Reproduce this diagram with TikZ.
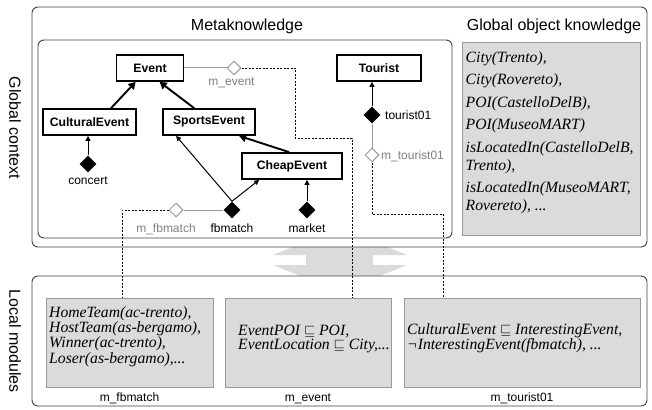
\documentclass[tikz,border=0pt]{standalone}
\usepackage{fontspec}
\setmainfont{Liberation Serif}
\setsansfont{Liberation Sans}
\usetikzlibrary{shapes.geometric,arrows.meta}
\begin{document}
\begin{tikzpicture}[x=1pt,y=-1pt,
  frame/.style={draw=black!75, line width=0.9pt, rounded corners=6pt, fill=white},
  cls/.style={draw=black, line width=1.8pt, fill=white, inner sep=0pt, minimum height=26pt,
    font=\sffamily\bfseries\fontsize{12.2}{14}\selectfont},
  inst/.style={diamond, fill=black, inner sep=0pt, minimum width=17pt, minimum height=17pt},
  modd/.style={diamond, draw=black!40, fill=white, line width=1pt, inner sep=0pt, minimum width=14pt, minimum height=14pt},
  isa/.style={line width=1.9pt, -{Triangle[length=7pt,width=8pt]}},
  inof/.style={line width=1pt, -{Triangle[length=5pt,width=5pt]}},
  glink/.style={draw=black!40, line width=1pt},
  dlink/.style={dash pattern=on 2pt off 1.5pt, line width=0.8pt},
  gbox/.style={draw=black!40, fill=black!14, line width=0.8pt, inner sep=0pt},
  lbl/.style={inner sep=0pt, font=\sffamily\fontsize{12}{14}\selectfont},
  glbl/.style={lbl, text=black!50},
  ttl/.style={inner sep=0pt, font=\sffamily\fontsize{16}{18}\selectfont},
  itxt/.style={inner sep=0pt, align=left, font=\rmfamily\itshape\fontsize{15.7}{18}\selectfont},
  ltxt/.style={inner sep=0pt, align=left, font=\rmfamily\itshape\fontsize{15.7}{13.6}\selectfont}
]
\useasboundingbox (0,0) rectangle (652,409);

% double arrow between layers
\fill[black!14] (340,228) -- (407,255) -- (373,255) -- (373,265) -- (407,265) -- (340,292)
  -- (273,265) -- (306,265) -- (306,255) -- (273,255) -- cycle;

% frames
\draw[frame] (32,7) rectangle (647,247);
\draw[frame] (38,40) rectangle (452,238);
\draw[frame] (32,276) rectangle (647,406);

% titles
\node[ttl, anchor=base] (tmeta) at (247,30.7) {Metaknowledge};
\node[ttl, anchor=base] (tgok) at (554,30.7) {Global object knowledge};
\node[ttl, rotate=-90] (tgc) at (15,128) {Global context};
\node[ttl, rotate=-90] (tlm) at (15,341) {Local modules};

% class boxes
\node[cls, minimum width=67pt] (Event) at (150,68) {Event};
\node[cls, minimum width=93pt] (Cultural) at (89.5,122) {CulturalEvent};
\node[cls, minimum width=92pt] (Sports) at (209,122) {SportsEvent};
\node[cls, minimum width=100pt] (Cheap) at (292,166) {CheapEvent};
\node[cls, minimum width=84pt] (Tourist) at (379,68) {Tourist};

% instances
\node[inst] (concert) at (88,164) {};
\node[inst] (fb) at (232,210) {};
\node[inst] (market) at (307,210) {};
\node[inst] (t01) at (372,115) {};

% module diamonds
\node[modd] (mev) at (234,68) {};
\node[modd] (mfb) at (176,210) {};
\node[modd] (mt) at (372,155) {};

% labels
\node[lbl, anchor=base] (lconcert) at (88,184) {concert};
\node[lbl, anchor=base] (lfb) at (232,232) {fbmatch};
\node[lbl, anchor=base] (lmarket) at (307,232) {market};
\node[lbl, anchor=base west] (lt01) at (385,119.5) {tourist01};
\node[glbl, anchor=base] (lmev) at (231.5,85) {m\_event};
\node[glbl, anchor=base] (lmfb) at (166,232) {m\_fbmatch};
\node[glbl, anchor=base west] (lmt) at (381,159.5) {m\_tourist01};

% subclass arrows
\draw[isa] ([xshift=69pt]Cultural.north west) -- ([xshift=20pt]Event.south west);
\draw[isa] ([xshift=32pt]Sports.north west) -- ([xshift=44pt]Event.south west);
\draw[isa] ([xshift=48pt]Cheap.north west) -- ([xshift=77pt]Sports.south west);

% instance-of arrows
\draw[inof] (concert.north) -- (concert.north |- Cultural.south);
\draw[inof] (fb.north) -- ([xshift=14pt]Sports.south west);
\draw[inof] (fb.north) -- ([xshift=18pt]Cheap.south west);
\draw[inof] (market.north) -- (market.north |- Cheap.south);
\draw[inof] (t01.north) -- (t01.north |- Tourist.south);

% module links
\draw[glink] (Event.east) -- (mev.west);
\draw[glink] (mfb.east) -- (fb.west);
\draw[glink] (t01.south) -- (mt.north);

% global object knowledge
\node[gbox, anchor=north west, minimum width=178pt, minimum height=193pt] (gok) at (462,42) {};
\node[itxt, anchor=base west] (gokt) at (465.5,210.5) {City(Trento),\\[4.5pt]
City(Rovereto),\\[4.5pt]
POI(CastelloDelB),\\[4.5pt]
POI(MuseoMART)\\[4.5pt]
isLocatedIn(CastelloDelB,\\
Trento),\\[4.5pt]
isLocatedIn(MuseoMART,\\
Rovereto), ...};

% local modules
\node[gbox, anchor=north west, minimum width=167pt, minimum height=89pt] (g1) at (46,298) {};
\node[gbox, anchor=north west, minimum width=166pt, minimum height=89pt] (g2) at (225,298) {};
\node[gbox, anchor=north west, minimum width=236pt, minimum height=89pt] (g3) at (404,298) {};

\node[ltxt, anchor=base west] (g1t) at (49,363) {HomeTeam(ac-trento),\\
HostTeam(as-bergamo),\\
Winner(ac-trento),\\
Loser(as-bergamo),...};
\node[ltxt, anchor=base west] (g2t) at (238,349.5) {EventPOI $\sqsubseteq$ POI,\\
EventLocation $\sqsubseteq$ City,...};
\node[ltxt, anchor=base west] (g3t) at (407,349.5) {CulturalEvent $\sqsubseteq$ InterestingEvent,\\
¬InterestingEvent(fbmatch), ...};

\node[lbl, anchor=base] (lg1) at (129.5,401) {m\_fbmatch};
\node[lbl, anchor=base] (lg2) at (308,401) {m\_event};
\node[lbl, anchor=base] (lg3) at (522,401) {m\_tourist01};

% dashed module mappings
\coordinate (f1) at (122,210);
\draw[dlink] (mfb.west) -- (f1) -- (f1 |- g1.north);
\coordinate (e1) at (295,138);
\coordinate (e2) at (352,138);
\draw[dlink] (mev.east) -| (e1) -- (e2) -- (e2 |- g2.north);
\coordinate (k1) at (443,214);
\draw[dlink] (mt.south) |- (k1) -- (k1 |- g3.north);
\end{tikzpicture}
\end{document}
